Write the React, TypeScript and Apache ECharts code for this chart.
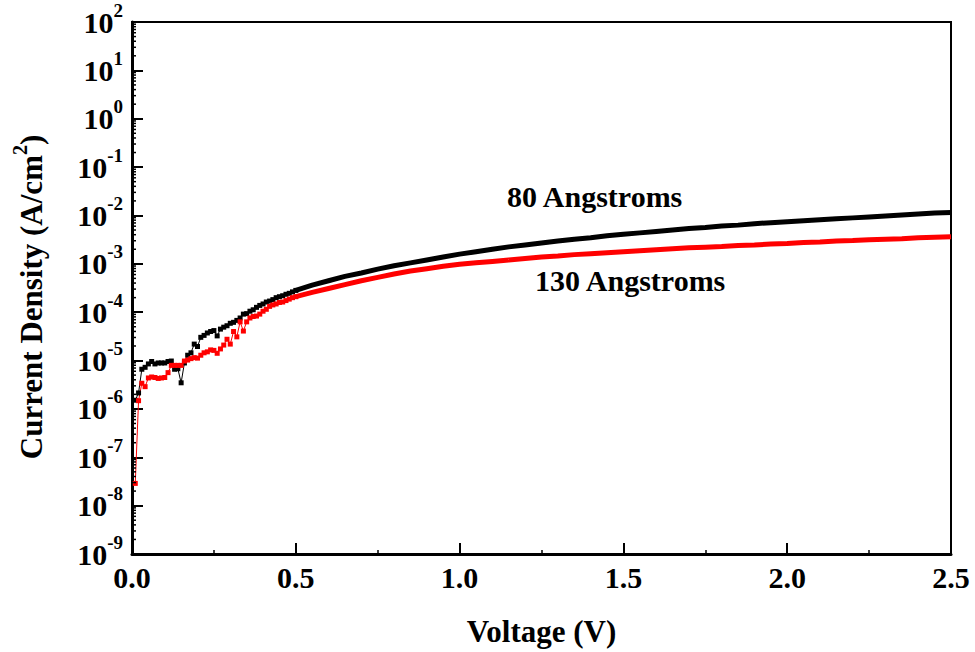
import React, { useEffect, useRef } from "react";
import * as echarts from "echarts";

// Voltage (V), dense noisy low-bias part
const vLow = [
  0.01, 0.02, 0.03, 0.04, 0.05, 0.06, 0.07, 0.08, 0.09, 0.1,
  0.11, 0.12, 0.13, 0.14, 0.15, 0.16, 0.17, 0.18, 0.19, 0.2,
  0.21, 0.22, 0.23, 0.24, 0.25, 0.26, 0.27, 0.28, 0.29, 0.3,
  0.31, 0.32, 0.33, 0.34, 0.35, 0.36, 0.37, 0.38, 0.39, 0.4,
  0.41, 0.42, 0.43, 0.44, 0.45, 0.46, 0.47, 0.48, 0.49, 0.5,
];
// log10 of current density (A/cm^2), 80 Angstroms
const log80Low = [
  -5.82, -5.67, -5.18, -5.14, -5.07, -5.02, -5.07, -5.05, -5.05, -5.05,
  -5.02, -5.01, -5.18, -5.17, -5.46, -5.05, -4.89, -4.84, -4.66, -4.71,
  -4.52, -4.48, -4.43, -4.4, -4.38, -4.49, -4.35, -4.31, -4.28, -4.23,
  -4.21, -4.17, -4.12, -4.04, -4.03, -3.98, -3.95, -3.9, -3.86, -3.83,
  -3.79, -3.77, -3.74, -3.7, -3.68, -3.66, -3.63, -3.61, -3.58, -3.55,
];
// log10 of current density (A/cm^2), 130 Angstroms
const log130Low = [
  -7.54, -5.83, -5.47, -5.54, -5.36, -5.34, -5.35, -5.37, -5.36, -5.35,
  -5.25, -5.1, -5.1, -5.1, -5.1, -5.01, -4.99, -4.96, -4.94, -4.95,
  -4.89, -4.84, -4.82, -4.78, -4.79, -4.85, -4.76, -4.68, -4.56, -4.66,
  -4.4, -4.51, -4.2, -4.39, -4.2, -4.12, -4.09, -4.08, -4.04, -3.98,
  -3.94, -3.88, -3.85, -3.83, -3.8, -3.79, -3.76, -3.73, -3.7, -3.68,
];

// Voltage (V), smooth high-bias part
const vHigh = [
  0.5, 0.55, 0.6, 0.65, 0.7, 0.75, 0.8, 0.85, 0.9, 0.95,
  1.0, 1.05, 1.1, 1.15, 1.2, 1.25, 1.3, 1.35, 1.4, 1.45,
  1.5, 1.55, 1.6, 1.65, 1.7, 1.75, 1.8, 1.85, 1.9, 1.95,
  2.0, 2.05, 2.1, 2.15, 2.2, 2.25, 2.3, 2.35, 2.4, 2.45, 2.5,
];
const log80High = [
  -3.55, -3.44, -3.35, -3.26, -3.19, -3.11, -3.04, -2.98, -2.92, -2.86,
  -2.8, -2.75, -2.7, -2.65, -2.61, -2.57, -2.53, -2.49, -2.46, -2.42,
  -2.39, -2.36, -2.33, -2.3, -2.27, -2.25, -2.22, -2.2, -2.17, -2.15,
  -2.13, -2.11, -2.09, -2.07, -2.05, -2.03, -2.01, -1.99, -1.97, -1.95, -1.94,
];
const log130High = [
  -3.68, -3.59, -3.51, -3.43, -3.35, -3.28, -3.21, -3.15, -3.1, -3.05,
  -3.01, -2.98, -2.95, -2.92, -2.89, -2.86, -2.84, -2.81, -2.79, -2.77,
  -2.75, -2.73, -2.71, -2.69, -2.67, -2.655, -2.64, -2.62, -2.61, -2.59,
  -2.58, -2.56, -2.55, -2.53, -2.52, -2.5, -2.49, -2.48, -2.46, -2.45, -2.44,
];

const xMin = 0;
const xMax = 2.5;
const xStep = 0.5;
const yExpMin = -9;
const yExpMax = 2;
const labels = ["80 Angstroms", "130 Angstroms"];

const FONT = "'Liberation Serif', 'Times New Roman', serif";
const BLACK = "#000000";
const RED = "#ff0000";

export default function App() {
  const ref = useRef<HTMLDivElement>(null);

  useEffect(() => {
    document.body.style.margin = "0";
    const chart = echarts.init(ref.current as HTMLDivElement, null, { renderer: "svg" });
    const toPts = (xs: number[], ls: number[]) => xs.map((x, i) => [x, Math.pow(10, ls[i])]);

    const minor: number[][] = [];
    for (let k = yExpMin; k < yExpMax; k++) {
      for (let m = 2; m <= 9; m++) minor.push([0, m * Math.pow(10, k)]);
    }

    const lowSeries = (name: string, data: number[][], color: string) => ({
      name,
      type: "line",
      data,
      symbol: "rect",
      symbolSize: 5,
      itemStyle: { color },
      lineStyle: { color, width: 1 },
      z: 3,
    });
    const highSeries = (name: string, data: number[][], color: string) => ({
      name,
      type: "line",
      data,
      symbol: "none",
      lineStyle: { color, width: 5 },
      z: 3,
    });

    chart.setOption({
      animation: false,
      grid: {
        left: 132,
        top: 22,
        right: 24,
        bottom: 98,
        containLabel: false,
        outerBoundsMode: "none",
        show: true,
        borderColor: BLACK,
        borderWidth: 2,
      },
      xAxis: {
        type: "value",
        min: xMin,
        max: xMax,
        interval: xStep,
        axisLine: { lineStyle: { color: BLACK, width: 3 } },
        axisTick: { inside: true, length: 11, lineStyle: { color: BLACK, width: 2 } },
        minorTick: { show: true, splitNumber: 2, length: 4, lineStyle: { color: BLACK, width: 1.5 } },
        splitLine: { show: false },
        axisLabel: {
          formatter: (v: number) => v.toFixed(1),
          fontFamily: FONT,
          fontWeight: "bold",
          fontSize: 30,
          color: BLACK,
          margin: 8,
        },
        name: "Voltage (V)",
        nameLocation: "middle",
        nameGap: 62,
        nameTextStyle: { fontFamily: FONT, fontWeight: "bold", fontSize: 31, color: BLACK },
      },
      yAxis: {
        type: "log",
        logBase: 10,
        min: Math.pow(10, yExpMin),
        max: Math.pow(10, yExpMax),
        interval: 1,
        axisLine: { lineStyle: { color: BLACK, width: 3 } },
        axisTick: { inside: true, length: 11, lineStyle: { color: BLACK, width: 2 } },
        splitLine: { show: false },
        axisLabel: {
          formatter: (v: number) => `{b|10}{s|${Math.round(Math.log10(v))}}`,
          margin: 9,
          rich: {
            b: { fontFamily: FONT, fontWeight: "bold", fontSize: 30, color: BLACK },
            s: { fontFamily: FONT, fontWeight: "bold", fontSize: 19, color: BLACK, padding: [0, 0, 24, 0] },
          },
        },
        name: "{t|Current Density (A/cm}{s|2}{t|)}",
        nameLocation: "middle",
        nameRotate: 90,
        nameGap: 80,
        nameTextStyle: {
          padding: [0, 18, 0, 0],
          rich: {
            t: { fontFamily: FONT, fontWeight: "bold", fontSize: 31, color: BLACK },
            s: { fontFamily: FONT, fontWeight: "bold", fontSize: 20, color: BLACK, padding: [0, 0, 22, 0] },
          },
        },
      },
      series: [
        highSeries("80 Angstroms high", toPts(vHigh, log80High), BLACK),
        highSeries("130 Angstroms high", toPts(vHigh, log130High), RED),
        lowSeries("80 Angstroms", toPts(vLow, log80Low), BLACK),
        lowSeries("130 Angstroms", toPts(vLow, log130Low), RED),
        {
          type: "custom",
          silent: true,
          data: minor,
          z: 5,
          renderItem: (_p: any, api: any) => {
            const c = api.coord([api.value(0), api.value(1)]);
            return {
              type: "line",
              shape: { x1: c[0], y1: c[1], x2: c[0] + 4, y2: c[1] },
              style: { stroke: BLACK, lineWidth: 1.5 },
            };
          },
        },
      ],
      graphic: [
        {
          type: "text",
          left: 507,
          top: 181,
          style: { text: labels[0], font: `bold 30px ${FONT}`, fill: BLACK },
        },
        {
          type: "text",
          left: 535,
          top: 265,
          style: { text: labels[1], font: `bold 30px ${FONT}`, fill: BLACK },
        },
      ],
    });

    return () => chart.dispose();
  }, []);

  return <div ref={ref} style={{ width: 975, height: 652 }} />;
}
